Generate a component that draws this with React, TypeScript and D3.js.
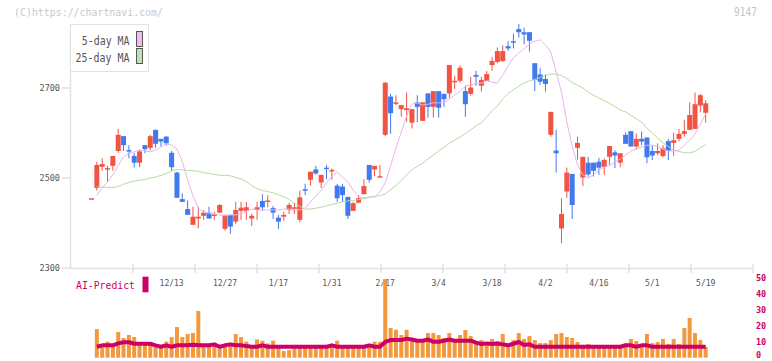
import React from 'react';
import * as d3 from 'd3';

// trading days shown on the chart
const dates = [
  '11/22', '11/25', '11/26', '11/27', '11/28', '11/29', '12/2', '12/3', '12/4', '12/5',
  '12/6', '12/9', '12/10', '12/11', '12/12', '12/13', '12/16', '12/17', '12/18', '12/19',
  '12/20', '12/23', '12/24', '12/25', '12/26', '12/27', '12/30', '1/6', '1/7', '1/8',
  '1/9', '1/10', '1/14', '1/15', '1/16', '1/17', '1/20', '1/21', '1/22', '1/23',
  '1/24', '1/27', '1/28', '1/29', '1/30', '1/31', '2/3', '2/4', '2/5', '2/6',
  '2/7', '2/10', '2/12', '2/13', '2/14', '2/17', '2/18', '2/19', '2/20', '2/21',
  '2/25', '2/26', '2/27', '2/28', '3/3', '3/4', '3/5', '3/6', '3/7', '3/10',
  '3/11', '3/12', '3/13', '3/14', '3/17', '3/18', '3/19', '3/21', '3/24', '3/25',
  '3/26', '3/27', '3/28', '3/31', '4/1', '4/2', '4/3', '4/4', '4/7', '4/8',
  '4/9', '4/10', '4/11', '4/14', '4/15', '4/16', '4/17', '4/18', '4/21', '4/22',
  '4/23', '4/24', '4/25', '4/28', '4/30', '5/1', '5/2', '5/7', '5/8', '5/9',
  '5/12', '5/13', '5/14', '5/15', '5/16', '5/19',
];

const open = [
  2455, 2478, 2525, 2519, 2527, 2560, 2593, 2562, 2549, 2534,
  2573, 2567, 2607, 2587, 2592, 2556, 2512, 2453, 2431, 2396,
  2410, 2416, 2423, 2417, 2423, 2387, 2418, 2403, 2427, 2427,
  2410, 2429, 2449, 2447, 2433, 2412, 2414, 2429, 2433, 2407,
  2475, 2496, 2519, 2490, 2523, 2515, 2483, 2481, 2458, 2427,
  2445, 2464, 2529, 2519, 2502, 2596, 2681, 2667, 2653, 2651,
  2623, 2668, 2627, 2688, 2658, 2693, 2687, 2688, 2714, 2716,
  2693, 2687, 2729, 2705, 2716, 2751, 2758, 2760, 2793, 2804,
  2831, 2824, 2824, 2755, 2730, 2720, 2596, 2561, 2388, 2470,
  2509, 2567, 2501, 2534, 2534, 2536, 2525, 2547, 2557, 2534,
  2596, 2604, 2570, 2587, 2590, 2560, 2555, 2549, 2582, 2578,
  2587, 2598, 2607, 2609, 2661, 2645,
];

const high = [
  2455, 2536, 2544, 2527, 2549, 2609, 2593, 2573, 2556, 2564,
  2573, 2596, 2607, 2587, 2593, 2560, 2514, 2466, 2450, 2436,
  2436, 2429, 2436, 2425, 2442, 2418, 2418, 2447, 2447, 2447,
  2421, 2447, 2464, 2462, 2438, 2418, 2425, 2445, 2445, 2472,
  2487, 2514, 2527, 2507, 2529, 2521, 2487, 2487, 2458, 2447,
  2462, 2497, 2529, 2527, 2529, 2712, 2687, 2684, 2662, 2690,
  2653, 2684, 2668, 2688, 2693, 2693, 2687, 2751, 2727, 2750,
  2705, 2725, 2738, 2725, 2738, 2769, 2790, 2795, 2804, 2821,
  2842, 2834, 2824, 2755, 2745, 2730, 2647, 2607, 2455, 2523,
  2509, 2592, 2547, 2547, 2534, 2545, 2544, 2571, 2562, 2555,
  2601, 2604, 2599, 2603, 2590, 2573, 2577, 2573, 2587, 2601,
  2609, 2629, 2668, 2690, 2687, 2673,
];

const low = [
  2455, 2472, 2516, 2492, 2516, 2556, 2560, 2544, 2523, 2524,
  2555, 2561, 2567, 2570, 2572, 2516, 2456, 2447, 2418, 2396,
  2388, 2407, 2410, 2407, 2422, 2383, 2376, 2398, 2407, 2407,
  2393, 2407, 2427, 2435, 2409, 2387, 2405, 2420, 2420, 2402,
  2462, 2483, 2507, 2478, 2497, 2496, 2447, 2447, 2409, 2427,
  2444, 2464, 2490, 2504, 2502, 2593, 2598, 2662, 2636, 2625,
  2610, 2624, 2627, 2634, 2634, 2634, 2658, 2678, 2698, 2712,
  2636, 2683, 2705, 2692, 2716, 2738, 2755, 2758, 2782, 2788,
  2812, 2797, 2781, 2693, 2707, 2692, 2592, 2512, 2355, 2456,
  2409, 2541, 2482, 2503, 2503, 2507, 2507, 2529, 2522, 2524,
  2576, 2570, 2564, 2573, 2533, 2540, 2551, 2546, 2540, 2549,
  2581, 2592, 2607, 2609, 2646, 2623,
];

const close = [
  2455, 2529, 2531, 2522, 2549, 2596, 2573, 2559, 2534, 2559,
  2564, 2593, 2576, 2581, 2577, 2524, 2456, 2447, 2418, 2414,
  2414, 2423, 2410, 2419, 2440, 2418, 2392, 2429, 2434, 2435,
  2416, 2435, 2435, 2450, 2423, 2403, 2418, 2440, 2435, 2457,
  2473, 2514, 2510, 2507, 2521, 2518, 2455, 2462, 2416, 2444,
  2455, 2482, 2496, 2527, 2504, 2712, 2644, 2668, 2662, 2655,
  2653, 2658, 2668, 2658, 2693, 2656, 2675, 2751, 2716, 2745,
  2664, 2701, 2725, 2718, 2731, 2760, 2782, 2782, 2788, 2801,
  2824, 2819, 2805, 2718, 2714, 2709, 2647, 2555, 2420, 2512,
  2440, 2578, 2547, 2508, 2516, 2523, 2540, 2571, 2550, 2555,
  2576, 2570, 2587, 2581, 2546, 2550, 2560, 2566, 2560, 2584,
  2598, 2604, 2640, 2664, 2684, 2666,
];

const ma5 = [
  null, 2462, 2478, 2491, 2507, 2527, 2547, 2556, 2558, 2562,
  2560, 2558, 2562, 2569, 2576, 2573, 2564, 2536, 2496, 2460,
  2433, 2424, 2422, 2420, 2418, 2416, 2418, 2418, 2420, 2427,
  2431, 2429, 2429, 2429, 2429, 2429, 2431, 2431, 2429, 2429,
  2433, 2447, 2460, 2473, 2489, 2504, 2513, 2502, 2491, 2473,
  2458, 2456, 2458, 2458, 2469, 2489, 2527, 2567, 2602, 2638,
  2664, 2667, 2662, 2664, 2667, 2667, 2667, 2676, 2684, 2693,
  2704, 2707, 2709, 2711, 2716, 2713, 2711, 2729, 2749, 2767,
  2778, 2787, 2798, 2804, 2807, 2796, 2780, 2736, 2691, 2624,
  2571, 2529, 2507, 2500, 2507, 2518, 2524, 2527, 2536, 2542,
  2551, 2560, 2564, 2569, 2573, 2573, 2571, 2564, 2560, 2560,
  2562, 2573, 2584, 2598, 2620, 2642,
];

const ma25 = [
  null, 2481, 2480, 2479, 2479, 2481, 2486, 2490, 2493, 2495,
  2497, 2500, 2502, 2506, 2510, 2516, 2519, 2518, 2517, 2516,
  2515, 2512, 2510, 2508, 2506, 2506, 2505, 2501, 2498, 2492,
  2483, 2476, 2472, 2470, 2467, 2463, 2458, 2452, 2443, 2437,
  2431, 2431, 2433, 2435, 2438, 2441, 2444, 2447, 2449, 2450,
  2452, 2454, 2457, 2459, 2461, 2464, 2474, 2483, 2494, 2507,
  2518, 2526, 2533, 2542, 2551, 2560, 2568, 2577, 2584, 2591,
  2599, 2607, 2616, 2623, 2636, 2649, 2660, 2676, 2688, 2696,
  2704, 2711, 2716, 2719, 2723, 2728, 2731, 2731, 2728, 2721,
  2712, 2706, 2700, 2691, 2684, 2678, 2672, 2666, 2659, 2651,
  2647, 2639, 2632, 2624, 2611, 2600, 2589, 2578, 2570, 2562,
  2559, 2556, 2556, 2559, 2567, 2574,
];

const volume = [
  0, 18.0, 8.0, 10.1, 8.4, 16.2, 12.4, 14.3, 13.0, 9.0,
  8.6, 8.6, 8.0, 7.4, 10.1, 13.0, 19.3, 13.0, 14.9, 15.5,
  29.4, 8.0, 8.0, 8.0, 7.4, 8.0, 8.4, 14.9, 13.0, 10.1,
  7.4, 11.5, 10.7, 9.0, 10.7, 7.4, 4.2, 4.8, 7.0, 7.0,
  7.0, 7.0, 7.0, 6.5, 7.0, 7.4, 10.7, 7.0, 7.0, 7.0,
  7.0, 7.0, 7.4, 10.1, 10.1, 49.5, 18.7, 17.6, 14.3, 17.6,
  12.4, 11.8, 11.1, 15.5, 15.5, 14.3, 12.4, 15.5, 11.8, 14.3,
  17.4, 13.6, 10.5, 11.1, 7.4, 11.8, 10.5, 14.9, 7.4, 11.1,
  15.5, 11.8, 13.6, 11.1, 9.2, 9.2, 11.1, 14.9, 15.5, 13.0,
  12.4, 9.9, 7.4, 8.6, 6.8, 6.8, 6.8, 6.8, 6.8, 6.8,
  9.2, 11.8, 10.5, 7.0, 14.9, 9.2, 9.9, 11.8, 8.6, 11.8,
  8.6, 18.7, 25.0, 15.5, 11.1, 6.7,
];

const aiPredict = [
  null, 6.9, 7.8, 7.8, 7.8, 9.0, 9.7, 9.7, 8.8, 8.8,
  8.8, 8.8, 7.8, 6.9, 7.8, 6.9, 7.8, 7.8, 7.8, 8.2,
  7.8, 7.8, 7.8, 8.4, 6.9, 7.8, 8.4, 7.8, 7.8, 7.3,
  6.9, 6.9, 7.8, 6.9, 6.9, 6.9, 6.9, 6.9, 6.9, 6.9,
  6.9, 6.9, 6.9, 6.9, 6.9, 7.8, 6.9, 6.9, 6.9, 6.9,
  6.9, 6.9, 7.8, 6.9, 6.9, 9.9, 11.1, 11.1, 11.1, 12.0,
  11.5, 10.7, 10.7, 11.5, 10.0, 10.0, 10.7, 11.5, 10.7, 10.7,
  10.7, 10.7, 9.5, 8.6, 9.0, 8.6, 9.0, 8.4, 7.8, 8.8,
  9.9, 8.0, 8.4, 6.9, 6.9, 6.9, 6.9, 6.9, 6.9, 6.9,
  6.9, 6.9, 6.9, 6.9, 6.9, 6.9, 6.9, 6.9, 6.9, 6.9,
  7.8, 7.8, 6.9, 7.8, 7.8, 6.9, 6.9, 6.9, 6.9, 6.9,
  6.9, 6.9, 6.9, 6.9, 6.9, 6.9,
];

const tickLabels = ['12/13', '12/27', '1/17', '1/31', '2/17', '3/4', '3/18', '4/2', '4/16', '5/1', '5/19'];
const priceTicks = [2300, 2500, 2700];
const volumeTicks = [0, 10, 20, 30, 40, 50];

const MONO = '"DejaVu Sans Mono", monospace';
const UP = '#f15443';
const DOWN = '#4179ee';

export default function App() {
  const x = d3.scalePoint<string>().domain(dates).range([91.5, 705.7]);
  const y = d3.scaleLinear().domain([2300, 2700]).range([268, 88]);
  const yv = d3.scaleLinear().domain([0, 50]).range([357.7, 278.3]);
  // frame divisions of the time axis
  const frame = d3.scaleLinear().domain([0, 11]).range([71, 753]);

  const maLine = d3.line<number | null>()
    .defined((v) => v != null)
    .x((_, i) => x(dates[i]) as number)
    .y((v) => y(v as number));

  const aiLine = d3.line<number | null>()
    .defined((v) => v != null)
    .x((_, i) => x(dates[i]) as number)
    .y((v) => yv(v as number));

  const bodyW = 5;
  const barW = 4;

  return (
    <svg width={772} height={361} style={{ position: 'absolute', left: 0, top: 0, background: '#fff' }}>
      {/* watermark and code */}
      <text x={14} y={16} fontFamily={MONO} fontSize={11} fill="#c8c8c8"
        textLength={149} lengthAdjust="spacingAndGlyphs">(C)https://chartnavi.com/</text>
      <text x={734} y={16} fontFamily={MONO} fontSize={11.5} fill="#c4c4c4"
        textLength={23} lengthAdjust="spacingAndGlyphs">9147</text>

      {/* axes */}
      <line x1={70.5} x2={70.5} y1={24} y2={268.5} stroke="#e2e2e2" strokeWidth={1.5} />
      <line x1={70} x2={753} y1={268.5} y2={268.5} stroke="#e2e2e2" strokeWidth={1.5} />
      {d3.range(1, 12).map((k) => (
        <line key={'xt' + k} x1={frame(k)} x2={frame(k)} y1={264} y2={273} stroke="#e2e2e2" strokeWidth={1.5} />
      ))}
      {priceTicks.map((t) => (
        <g key={'yt' + t}>
          <line x1={62} x2={71} y1={y(t)} y2={y(t)} stroke="#e2e2e2" strokeWidth={1.5} />
          <text x={60} y={y(t)} dy="0.35em" textAnchor="end" fontFamily={MONO} fontSize={8.5} fill="#555">{t}</text>
        </g>
      ))}

      {/* legend */}
      <rect x={70.5} y={24.5} width={78} height={47} fill="#fff" stroke="#e2e2e2" />
      <text x={129.5} y={44.5} textAnchor="end" fontFamily={MONO} fontSize={12.5} fill="#555"
        textLength={47.7} lengthAdjust="spacingAndGlyphs">5-day MA</text>
      <text x={129.5} y={61.5} textAnchor="end" fontFamily={MONO} fontSize={12.5} fill="#555"
        textLength={54} lengthAdjust="spacingAndGlyphs">25-day MA</text>
      <rect x={136.5} y={31.5} width={6} height={15} fill="#efbcef" stroke="#555" />
      <rect x={136.5} y={48.5} width={6} height={15} fill="#bfe0b0" stroke="#555" />

      {/* candles */}
      {dates.map((d, i) => {
        const cx = x(d) as number;
        const up = close[i] >= open[i];
        const col = up ? UP : DOWN;
        const top = y(Math.max(open[i], close[i]));
        const bot = y(Math.min(open[i], close[i]));
        const h = Math.max(bot - top, 1.5);
        return (
          <g key={'c' + i}>
            <line x1={cx} x2={cx} y1={y(high[i])} y2={y(low[i])} stroke={col} strokeWidth={1} />
            <rect x={cx - bodyW / 2} y={top} width={bodyW} height={h} fill={col} />
          </g>
        );
      })}

      {/* moving averages */}
      <path d={maLine(ma25) || ''} fill="none" stroke="#b4dca4" strokeWidth={1} />
      <path d={maLine(ma5) || ''} fill="none" stroke="#ebb4eb" strokeWidth={1} />

      {/* date labels */}
      {tickLabels.map((t) => (
        <text key={'xl' + t} x={x(t) as number} y={285.5} textAnchor="middle" fontFamily={MONO} fontSize={8} fill="#555">{t}</text>
      ))}

      {/* AI-Predict label */}
      <text x={76} y={289.3} fontFamily={MONO} fontSize={11} fill="#cc0066"
        textLength={59} lengthAdjust="spacingAndGlyphs">AI-Predict</text>
      <rect x={142.5} y={276.7} width={6} height={15.6} fill="#cc0066" />

      {/* volume */}
      {dates.map((d, i) => (
        volume[i] > 0 ? (
          <rect key={'v' + i} x={(x(d) as number) - barW / 2} y={yv(volume[i])} width={barW}
            height={yv(0) - yv(volume[i])} fill="#f2993e" />
        ) : null
      ))}
      <path d={aiLine(aiPredict) || ''} fill="none" stroke="#cc0066" strokeWidth={4} strokeLinejoin="round" />
      {volumeTicks.map((t) => (
        <text key={'vt' + t} x={756} y={Math.min(yv(t), 355.5)} dy="0.35em" fontFamily={MONO} fontSize={8.5} fontWeight="bold" fill="#cc0066">{t}</text>
      ))}
    </svg>
  );
}
